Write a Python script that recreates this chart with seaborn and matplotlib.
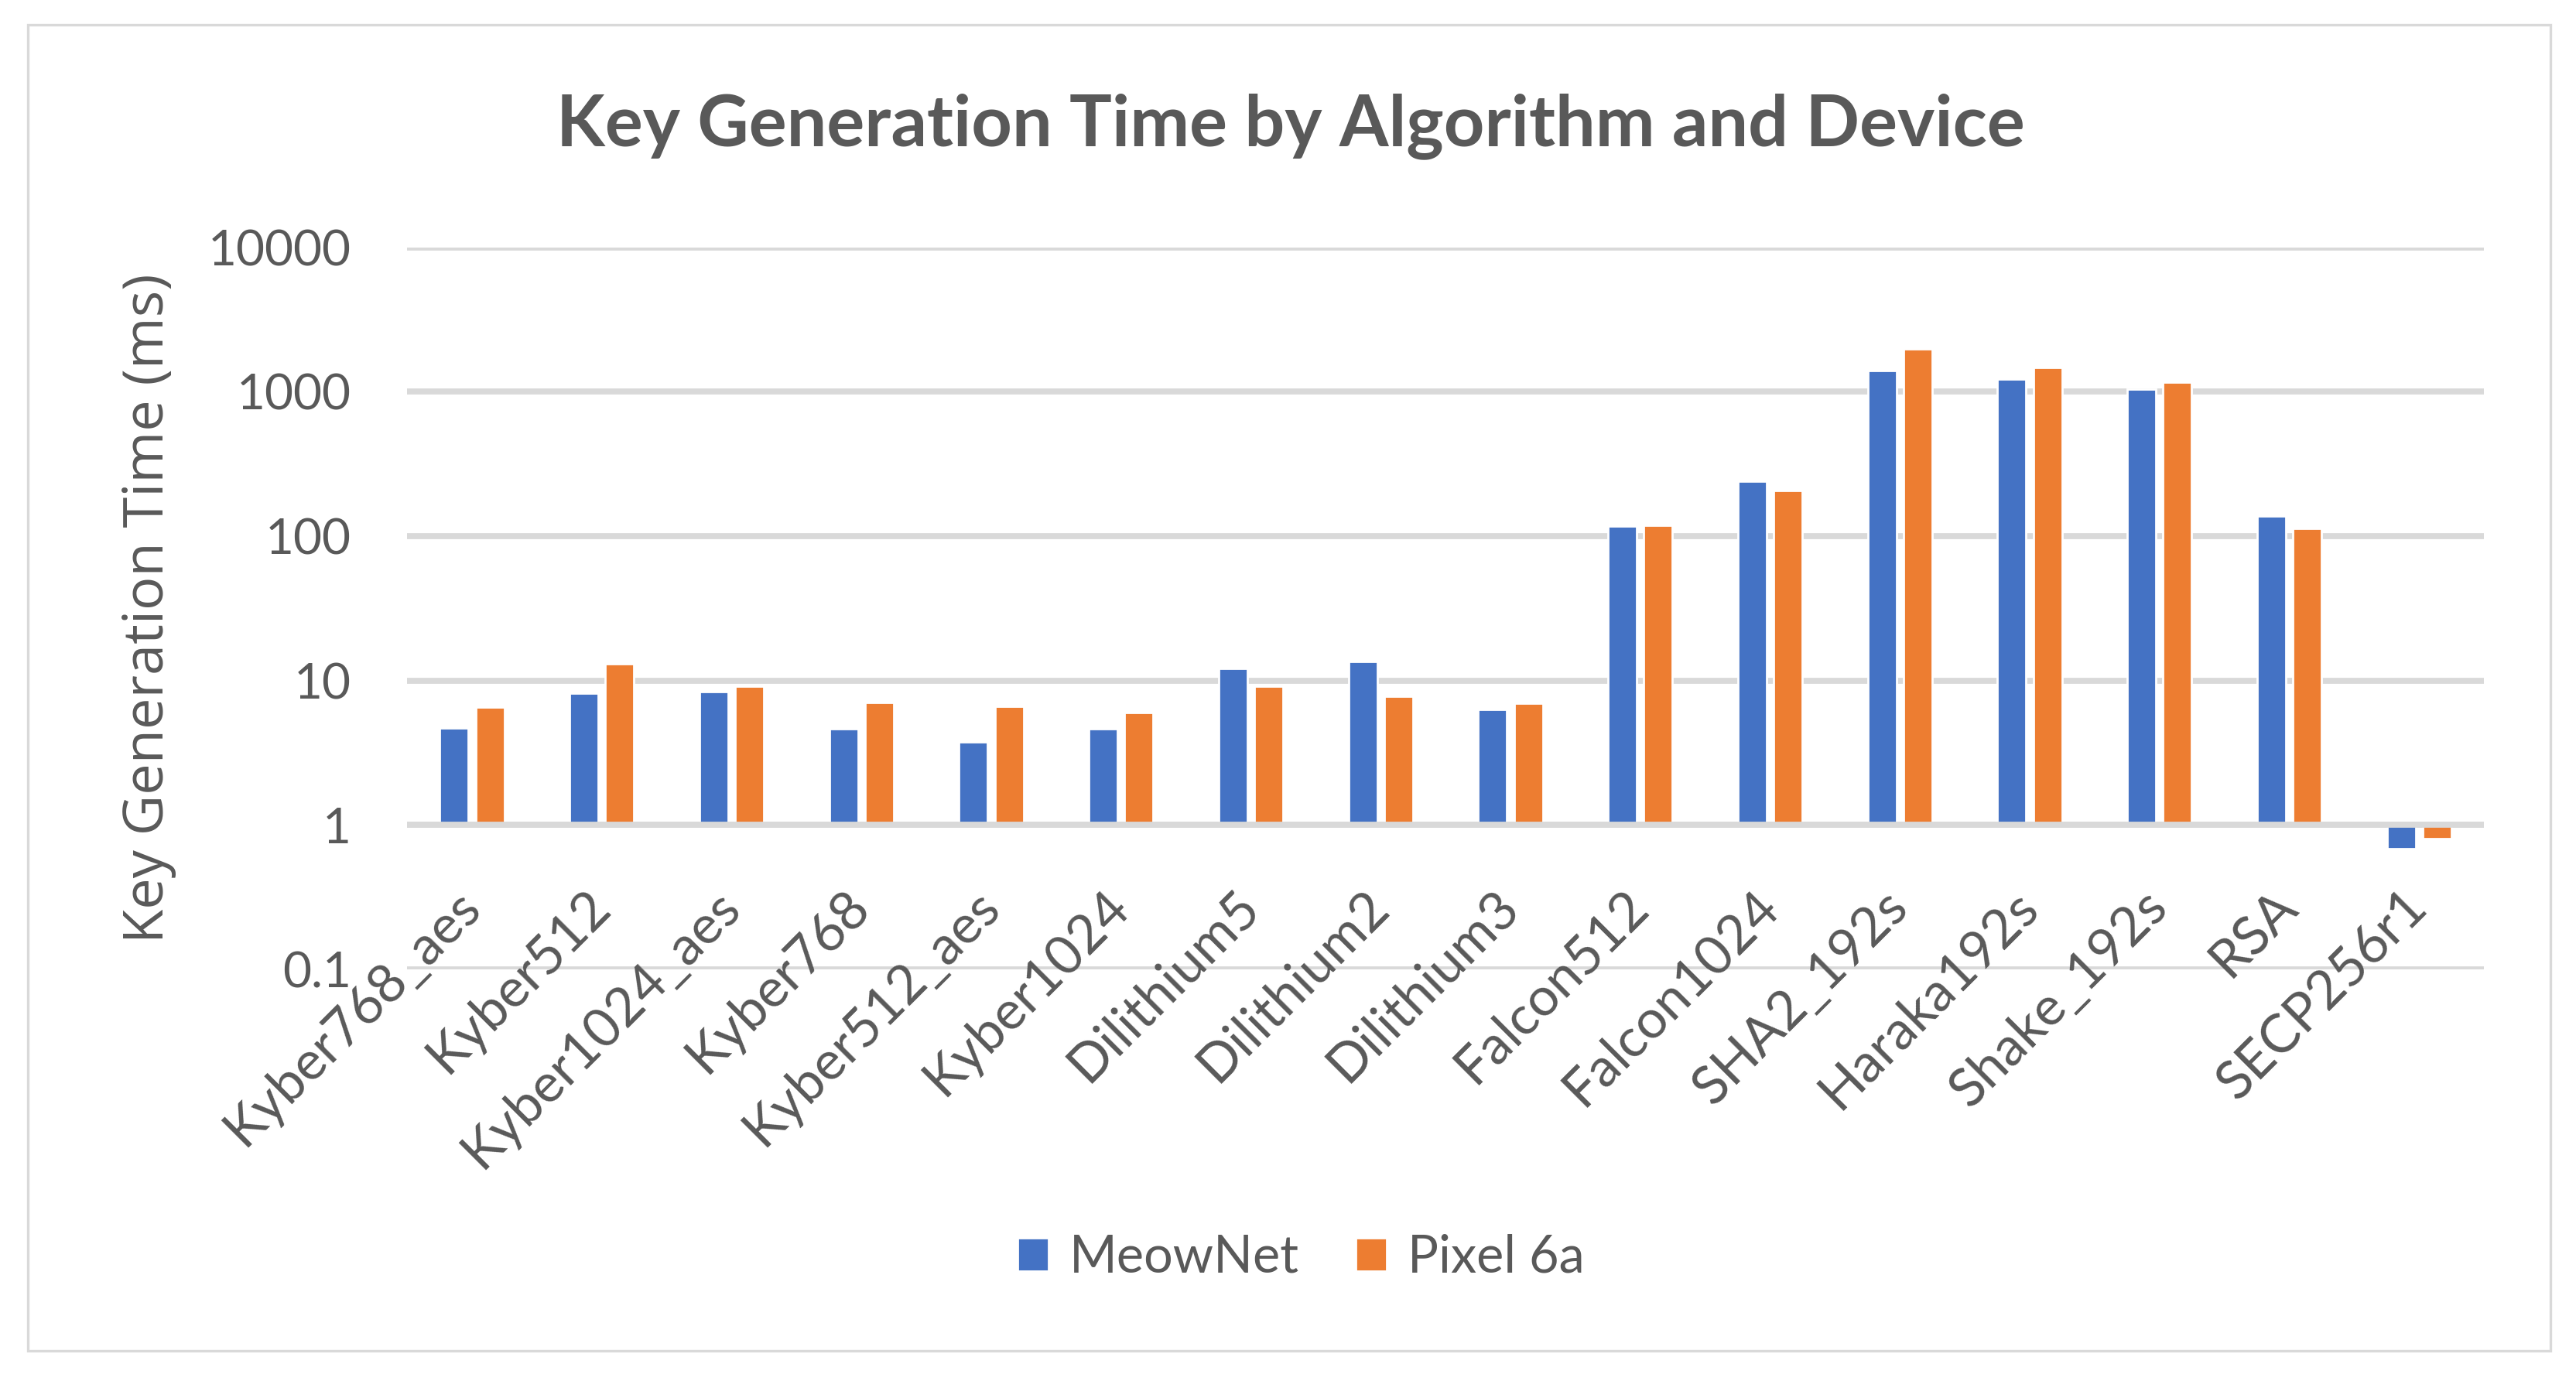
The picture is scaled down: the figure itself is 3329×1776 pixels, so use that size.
import numpy as np
import pandas as pd
import matplotlib
matplotlib.use("Agg")
import matplotlib.pyplot as plt
from matplotlib.ticker import FixedLocator, FuncFormatter
from matplotlib.patches import Rectangle
import seaborn as sns

# ---------------- data ----------------
algorithms = ["Kyber768_aes", "Kyber512", "Kyber1024_aes", "Kyber768", "Kyber512_aes",
              "Kyber1024", "Dilithium5", "Dilithium2", "Dilithium3", "Falcon512",
              "Falcon1024", "SHA2_192s", "Haraka192s", "Shake_192s", "RSA", "SECP256r1"]
meownet = [4.68, 8.14, 8.35, 4.62, 3.75, 4.62, 12.1, 13.5, 6.28, 118,
           240, 1399, 1222, 1042, 138, 0.686]
pixel6a = [6.53, 13.0, 9.10, 7.03, 6.61, 5.99, 9.10, 7.75, 6.94, 119,
           208, 1968, 1467, 1158, 113, 0.804]
devices = ["MeowNet", "Pixel 6a"]
y_ticks_log = [-1, 0, 1, 2, 3, 4]   # 0.1 ... 10000

title = "Key Generation Time by Algorithm and Device"
ylabel = "Key Generation Time (ms)"

BLUE = "#4472C4"
ORANGE = "#ED7D31"
GREY_TXT = "#595959"
GRID = "#D9D9D9"

df = pd.DataFrame({
    "Algorithm": algorithms * 2,
    "Device": [devices[0]] * len(algorithms) + [devices[1]] * len(algorithms),
    "Time": meownet + pixel6a,
})
# Excel-style log axis crossing at 1: bars grow from 1 in log space
df["LogTime"] = np.log10(df["Time"])

sns.set_theme(style="white")
plt.rcParams["font.family"] = ["Lato", "DejaVu Sans"]

fig = plt.figure(figsize=(16.65, 8.88), dpi=200)
ax = fig.add_axes([0.158, 0.2945, 0.806, 0.5255])

sns.barplot(data=df, x="Algorithm", y="LogTime", hue="Device",
            palette=[BLUE, ORANGE], width=0.55, gap=0.2, errorbar=None,
            saturation=1, ax=ax, zorder=2)

ax.set_ylim(-1, 4)
ax.set_xlim(-0.5, len(algorithms) - 0.5)
ax.yaxis.set_major_locator(FixedLocator(y_ticks_log))
ax.yaxis.set_major_formatter(FuncFormatter(lambda v, p: f"{10.0 ** float(v):g}"))
ax.grid(axis="y", color=GRID, linewidth=2.8, zorder=0)
ax.grid(axis="x", visible=False)
ax.set_axisbelow(True)
ax.axhline(0, color=GRID, linewidth=2.8, zorder=3)
ax.xaxis.set_zorder(5)   # category labels drawn above the 0.1 gridline

for s in ax.spines.values():
    s.set_visible(False)

ax.tick_params(axis="y", length=0, pad=26, labelsize=23, labelcolor=GREY_TXT)
ax.tick_params(axis="x", length=0, pad=-33, labelsize=25, labelcolor=GREY_TXT)
for lab in ax.get_xticklabels():
    lab.set_rotation(45)
    lab.set_ha("right")
    lab.set_va("center")
    lab.set_rotation_mode("anchor")

ax.set_xlabel("")
ax.set_ylabel(ylabel, fontsize=26, color=GREY_TXT, family=["Open Sans", "DejaVu Sans"])
ax.yaxis.set_label_coords(-0.111, 0.5)

handles, labels = ax.get_legend_handles_labels()
if ax.get_legend() is not None:
    ax.get_legend().remove()
fig.legend(handles, labels, loc="center", bbox_to_anchor=(0.505, 0.0845), ncol=2,
           frameon=False, fontsize=24, labelcolor=GREY_TXT,
           handlelength=0.6, handleheight=0.6, handletextpad=0.4, columnspacing=1.1)

fig.text(0.501, 0.894, title, ha="center", va="baseline", fontsize=33,
         fontweight="bold", color=GREY_TXT)

fig.add_artist(Rectangle((36 / 3330, 1 - 1746 / 1776), (3296 - 36) / 3330, (1746 - 32) / 1776,
                         transform=fig.transFigure, fill=False, edgecolor=GRID, linewidth=1.2))

fig.savefig("out.png", dpi=200, facecolor="white")
